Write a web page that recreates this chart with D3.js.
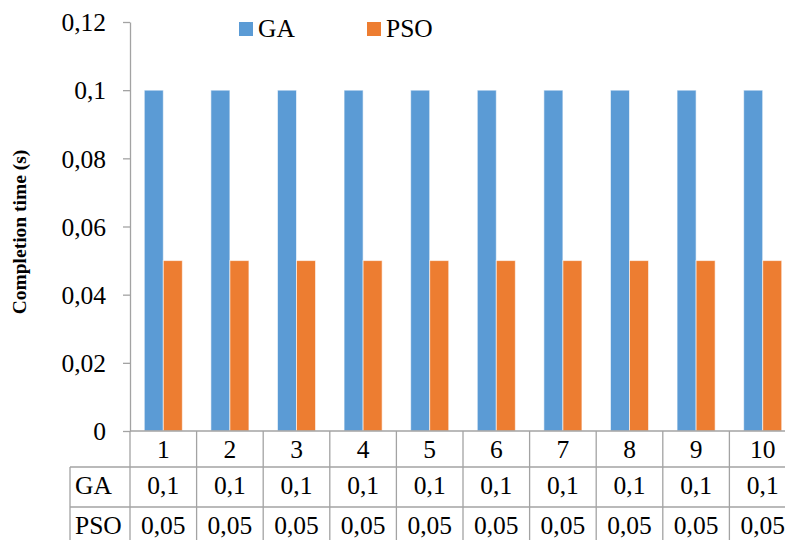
<!DOCTYPE html>
<html>
<head>
<meta charset="utf-8">
<script src="https://cdn.jsdelivr.net/npm/d3@7/dist/d3.min.js"></script>
<style>
  html, body { margin: 0; padding: 0; background: #ffffff; }
  svg { display: block; }
  text { font-family: "Liberation Serif", "Times New Roman", serif; fill: #000; }
</style>
</head>
<body>
<svg id="chart" width="785" height="540"></svg>
<script>
// Runs 1..10 and the completion time of each algorithm (seconds)
const categories = ["1", "2", "3", "4", "5", "6", "7", "8", "9", "10"];
const seriesNames = ["GA", "PSO"];
const gaValues = [0.1, 0.1, 0.1, 0.1, 0.1, 0.1, 0.1, 0.1, 0.1, 0.1];
const psoValues = [0.05, 0.05, 0.05, 0.05, 0.05, 0.05, 0.05, 0.05, 0.05, 0.05];
const yTicks = [0, 0.02, 0.04, 0.06, 0.08, 0.1, 0.12];
const yTitle = "Completion time (s)";

const seriesValues = { GA: gaValues, PSO: psoValues };
const colors = { GA: "#5B9BD5", PSO: "#ED7D31" };

// Decimal comma formatting
const locale = d3.formatLocale({ decimal: ",", thousands: ".", grouping: [3], currency: ["", ""] });
const fmt = locale.format("~g");

const svg = d3.select("#chart");
const lineColor = "#a3a3a3";
const fontSize = 25.5;

const plot = { left: 130, top: 22, bottom: 431 };
const step = 66.6;

const x = d3.scaleBand()
  .domain(categories)
  .range([plot.left, plot.left + step * categories.length])
  .paddingInner(0).paddingOuter(0);

const xSeries = d3.scaleBand()
  .domain(seriesNames)
  .range([0, x.bandwidth()])
  .paddingInner(0).paddingOuter(0.75);

const y = d3.scaleLinear().domain([0, 0.12]).range([plot.bottom, plot.top]);

// Bars
seriesNames.forEach(name => {
  svg.append("g")
    .selectAll("rect")
    .data(seriesValues[name].map((v, i) => ({ cat: categories[i], v })))
    .join("rect")
    .attr("x", d => x(d.cat) + xSeries(name))
    .attr("y", d => y(d.v))
    .attr("width", xSeries.bandwidth())
    .attr("height", d => y(0) - y(d.v))
    .attr("fill", colors[name])
    .attr("stroke", "#ffffff")
    .attr("stroke-opacity", 0.6)
    .attr("stroke-width", 1);
});

// Y axis
const yAxis = svg.append("g")
  .attr("transform", `translate(${plot.left},0)`)
  .call(d3.axisLeft(y).tickValues(yTicks).tickFormat(fmt).tickSize(7).tickSizeOuter(0).tickPadding(17));
yAxis.select(".domain").attr("stroke", lineColor).attr("stroke-width", 1.3);
yAxis.selectAll(".tick line").attr("stroke", lineColor).attr("stroke-width", 1.3);
yAxis.selectAll(".tick text")
  .attr("font-size", fontSize)
  .attr("font-family", "'Liberation Serif', 'Times New Roman', serif")
  .attr("fill", "#000")
  .attr("dy", "0.34em");

// Y axis title
svg.append("text")
  .attr("transform", "translate(26,232) rotate(-90)")
  .attr("text-anchor", "middle")
  .attr("font-size", 19.5)
  .attr("font-weight", "bold")
  .text(yTitle);

// Data table beneath the plot
const table = svg.append("g");
const rowTop = [431, 467, 507];
const rowBottom = 548;
const tableRight = x.range()[1];
const labelLeft = 70;

// horizontal rules
table.append("line").attr("x1", plot.left).attr("x2", tableRight).attr("y1", rowTop[0]).attr("y2", rowTop[0]);
[rowTop[1], rowTop[2], rowBottom].forEach(yy => {
  table.append("line").attr("x1", labelLeft).attr("x2", tableRight).attr("y1", yy).attr("y2", yy);
});
// vertical rules
categories.concat(["end"]).forEach((c, i) => {
  const xx = plot.left + i * step;
  table.append("line").attr("x1", xx).attr("x2", xx).attr("y1", rowTop[0]).attr("y2", rowBottom);
});
table.append("line").attr("x1", labelLeft).attr("x2", labelLeft).attr("y1", rowTop[1]).attr("y2", rowBottom);
table.selectAll("line").attr("stroke", lineColor).attr("stroke-width", 1.3);

// category labels
table.selectAll("text.cat")
  .data(categories)
  .join("text")
  .attr("class", "cat")
  .attr("x", d => x(d) + x.bandwidth() / 2)
  .attr("y", 458)
  .attr("text-anchor", "middle")
  .attr("font-size", fontSize)
  .text(d => d);

// series rows
const rowBaselines = [494, 534];
seriesNames.forEach((name, r) => {
  table.append("text")
    .attr("x", 75)
    .attr("y", rowBaselines[r])
    .attr("font-size", fontSize)
    .text(name);
  table.selectAll(null)
    .data(seriesValues[name].map((v, i) => ({ cat: categories[i], v })))
    .join("text")
    .attr("x", d => x(d.cat) + x.bandwidth() / 2)
    .attr("y", rowBaselines[r])
    .attr("text-anchor", "middle")
    .attr("font-size", fontSize)
    .text(d => fmt(d.v));
});

// Legend
const legendPos = [{ rx: 239, tx: 258 }, { rx: 367, tx: 386 }];
seriesNames.forEach((name, i) => {
  svg.append("rect")
    .attr("x", legendPos[i].rx).attr("y", 22)
    .attr("width", 14).attr("height", 14)
    .attr("fill", colors[name]);
  svg.append("text")
    .attr("x", legendPos[i].tx).attr("y", 37)
    .attr("font-size", fontSize)
    .text(name);
});
</script>
</body>
</html>
